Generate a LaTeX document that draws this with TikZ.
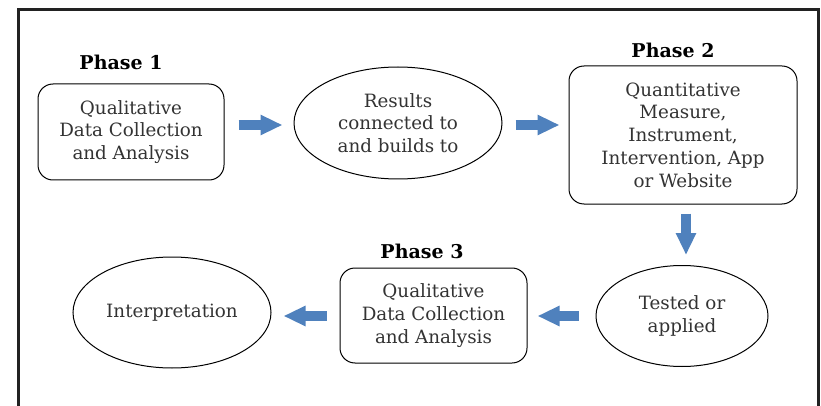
\documentclass[tikz,border=0pt]{standalone}
\usepackage{fontspec}
\setmainfont{DejaVu Serif}
\usetikzlibrary{arrows.meta,shapes.geometric,calc}
\definecolor{arrblue}{HTML}{4F81BD}
\definecolor{txt}{HTML}{333333}
\definecolor{framec}{HTML}{222222}
\tikzset{
  boxtext/.style={font=\fontsize{18.3}{22.8}\selectfont, text=txt, align=center, inner sep=0pt},
  rbox/.style={boxtext, draw=black, line width=1pt, rounded corners=15pt},
  oval/.style={boxtext, draw=black, line width=1pt, ellipse},
  phaselabel/.style={font=\fontsize{19}{21}\bfseries\selectfont, text=black, inner sep=0pt},
  bluearr/.style={draw=arrblue, line width=10pt, -{Triangle[length=22pt,width=19pt]}}
}
\begin{document}
\begin{tikzpicture}[x=1pt,y=-1pt]
\useasboundingbox (0,0) rectangle (821,406);
\fill[white] (0,0) rectangle (821,406);
% frame
\draw[framec, line width=3pt] (18,420) -- (18,9.5) -- (818.5,9.5) -- (818.5,420);
% nodes
\node[rbox, minimum width=186pt, minimum height=96pt] (p1) at (131,132) {Qualitative\\Data Collection\\and Analysis};
\node[phaselabel] (l1) at (121,62) {Phase 1};
\node[oval, minimum width=208pt, minimum height=112pt] (res) at (398,123) {Results\\connected to\\and builds to};
\node[rbox, minimum width=228pt, minimum height=138pt] (p2) at (683,135) {Quantitative\\Measure,\\Instrument,\\Intervention, App\\or Website};
\node[phaselabel] (l2) at (673,50) {Phase 2};
\node[oval, minimum width=172pt, minimum height=101pt] (test) at (682,316) {Tested or\\applied};
\node[rbox, minimum width=187pt, minimum height=95pt] (p3) at (433.5,315.5) {Qualitative\\Data Collection\\and Analysis};
\node[phaselabel] (l3) at (422,251) {Phase 3};
\node[oval, minimum width=198pt, minimum height=111pt] (interp) at (172,312.5) {Interpretation};
% arrow rows
\coordinate (r1) at (0,125);
\coordinate (r2) at (0,316);
\coordinate (c1) at (686,0);
% arrows
\draw[bluearr, shorten <=14pt, shorten >=11pt] (p1.east |- r1) -- (res.west |- r1);
\draw[bluearr, shorten <=13pt, shorten >=9pt] (res.east |- r1) -- (p2.west |- r1);
\draw[bluearr, shorten <=9pt, shorten >=10pt] (p2.south -| c1) -- (test.north -| c1);
\draw[bluearr, shorten <=17pt, shorten >=10pt] (test.west |- r2) -- (p3.east |- r2);
\draw[bluearr, shorten <=13pt, shorten >=12pt] (p3.west |- r2) -- (interp.east |- r2);
\end{tikzpicture}
\end{document}
